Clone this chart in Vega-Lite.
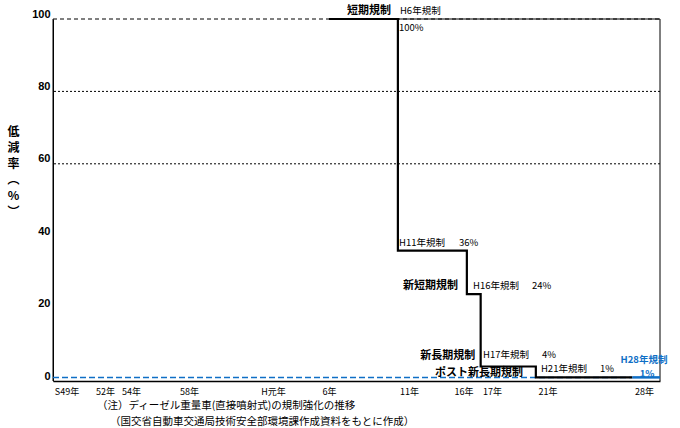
{
  "$schema": "https://vega.github.io/schema/vega-lite/v6.json",
  "autosize": {"type": "none"},
  "padding": {"left": 53, "top": 19, "right": 20, "bottom": 47},
  "width": 607,
  "height": 362,
  "background": "white",
  "config": {"view": {"stroke": null}},
  "datasets": {
    "steps": [
      {"year": 1994, "value": 100},
      {"year": 1999, "value": 36},
      {"year": 2004, "value": 24},
      {"year": 2005, "value": 4},
      {"year": 2009, "value": 1},
      {"year": 2016, "value": 1}
    ],
    "dotted": [{"value": 80}, {"value": 60}],
    "dashed100": [{"x": 1974, "x2": 2018, "y": 100}],
    "solidtop": [{"x": 1999, "x2": 2018, "y": 100}],
    "frame": [{"x": 2018, "y": 0, "y2": 100}, {"x": 1974, "y": 0, "y2": 100}],
    "bluedash": [{"x": 1974, "x2": 2016, "y": 1}],
    "bluesolid": [{"x": 2016, "x2": 2018, "y": 1}],
    "bold": [
      {"x": 1998.5, "y": 102.3, "label": "短期規制"},
      {"x": 2003.36, "y": 26.3, "label": "新短期規制"},
      {"x": 2004.6, "y": 7.0, "label": "新長期規制"},
      {"x": 2008.07, "y": 2.3, "label": "ポスト新長期規制"}
    ],
    "normal": [
      {"x": 1999.15, "y": 102.3, "label": "H6年規制"},
      {"x": 1999.08, "y": 97.5, "label": "100%"},
      {"x": 1999.08, "y": 38.2, "label": "H11年規制"},
      {"x": 2003.43, "y": 38.2, "label": "36%"},
      {"x": 2004.45, "y": 26.3, "label": "H16年規制"},
      {"x": 2008.72, "y": 26.3, "label": "24%"},
      {"x": 2005.17, "y": 7.2, "label": "H17年規制"},
      {"x": 2009.45, "y": 7.2, "label": "4%"},
      {"x": 2009.37, "y": 3.2, "label": "H21年規制"},
      {"x": 2013.65, "y": 3.2, "label": "1%"}
    ],
    "blue": [
      {"x": 2016.84, "y": 5.9, "label": "H28年規制"},
      {"x": 2017.06, "y": 1.9, "label": "1%"}
    ],
    "notes": [
      {"x": 1977.19, "y": -7.0, "label": "（注）ディーゼル重量車(直接噴射式)の規制強化の推移"},
      {"x": 1978.13, "y": -11.2, "label": "（国交省自動車交通局技術安全部環境課作成資料をもとに作成）"}
    ]
  },
  "encoding": {
    "x": {
      "type": "quantitative",
      "scale": {"domain": [1974, 2018], "nice": false, "zero": false},
      "axis": {
        "values": [1974.98, 1977.77, 1979.65, 1983.86, 1989.95, 1994.0, 1999.8, 2003.76, 2005.82, 2009.85, 2016.84],
        "labelExpr": "datum.value < 1976 ? 'S49年' : datum.value < 1978.5 ? '52年' : datum.value < 1981 ? '54年' : datum.value < 1986 ? '58年' : datum.value < 1992 ? 'H元年' : datum.value < 1997 ? '6年' : datum.value < 2002 ? '11年' : datum.value < 2004.5 ? '16年' : datum.value < 2007 ? '17年' : datum.value < 2012 ? '21年' : '28年'",
        "grid": false, "ticks": false,
        "domain": true, "domainColor": "black", "domainWidth": 1.3,
        "labelFont": "Noto Sans CJK JP", "labelFontSize": 9, "labelColor": "black",
        "labelPadding": 6, "labelOverlap": false, "labelFlush": false,
        "title": null
      }
    },
    "y": {
      "type": "quantitative",
      "scale": {"domain": [0, 100], "nice": false, "zero": false},
      "axis": {
        "values": [0, 20, 40, 60, 80, 100],
        "grid": false, "ticks": false,
        "domain": true, "domainColor": "black", "domainWidth": 1,
        "labelFont": "Liberation Sans", "labelFontWeight": "bold", "labelFontSize": 11,
        "labelColor": "black", "labelPadding": 3, "labelOffset": -5,
        "title": ["低", "減", "率", "︵", "%", "︶"],
        "titleAngle": 0, "titleFont": "Noto Sans CJK JP", "titleFontWeight": "bold",
        "titleFontSize": 12, "titleLineHeight": 16, "titleColor": "black",
        "titleX": -40, "titleY": 107, "titleAlign": "center", "titleBaseline": "top"
      }
    }
  },
  "layer": [
    {
      "data": {"name": "dotted"},
      "mark": {"type": "rule", "color": "black", "strokeWidth": 1, "strokeDash": [2, 2]},
      "encoding": {"y": {"field": "value"}}
    },
    {
      "data": {"name": "dashed100"},
      "mark": {"type": "rule", "color": "black", "strokeWidth": 1, "strokeDash": [4, 3]},
      "encoding": {"x": {"field": "x"}, "x2": {"field": "x2"}, "y": {"field": "y"}}
    },
    {
      "data": {"name": "solidtop"},
      "mark": {"type": "rule", "color": "black", "strokeWidth": 1},
      "encoding": {"x": {"field": "x"}, "x2": {"field": "x2"}, "y": {"field": "y"}}
    },
    {
      "data": {"name": "frame"},
      "mark": {"type": "rule", "color": "black", "strokeWidth": 1},
      "encoding": {"x": {"field": "x"}, "y": {"field": "y"}, "y2": {"field": "y2"}}
    },
    {
      "data": {"name": "bluedash"},
      "mark": {"type": "rule", "color": "#0F6FC6", "strokeWidth": 1.5, "strokeDash": [6, 3]},
      "encoding": {"x": {"field": "x"}, "x2": {"field": "x2"}, "y": {"field": "y"}}
    },
    {
      "data": {"name": "steps"},
      "mark": {"type": "line", "interpolate": "step-after", "color": "black", "strokeWidth": 2.2},
      "encoding": {"x": {"field": "year"}, "y": {"field": "value"}}
    },
    {
      "data": {"name": "bluesolid"},
      "mark": {"type": "rule", "color": "#0F6FC6", "strokeWidth": 2.5},
      "encoding": {"x": {"field": "x"}, "x2": {"field": "x2"}, "y": {"field": "y"}}
    },
    {
      "data": {"name": "bold"},
      "mark": {"type": "text", "font": "Noto Sans CJK JP", "fontWeight": "bold", "fontSize": 11, "align": "right", "baseline": "middle", "color": "black"},
      "encoding": {"x": {"field": "x"}, "y": {"field": "y"}, "text": {"field": "label"}}
    },
    {
      "data": {"name": "normal"},
      "mark": {"type": "text", "font": "Noto Sans CJK JP", "fontSize": 9.5, "align": "left", "baseline": "middle", "color": "black"},
      "encoding": {"x": {"field": "x"}, "y": {"field": "y"}, "text": {"field": "label"}}
    },
    {
      "data": {"name": "blue"},
      "mark": {"type": "text", "font": "Noto Sans CJK JP", "fontWeight": "bold", "fontSize": 9.5, "align": "center", "baseline": "middle", "color": "#0F6FC6"},
      "encoding": {"x": {"field": "x"}, "y": {"field": "y"}, "text": {"field": "label"}}
    },
    {
      "data": {"name": "notes"},
      "mark": {"type": "text", "font": "Noto Sans CJK JP", "fontSize": 10.5, "align": "left", "baseline": "middle", "color": "black"},
      "encoding": {"x": {"field": "x"}, "y": {"field": "y"}, "text": {"field": "label"}}
    }
  ]
}
